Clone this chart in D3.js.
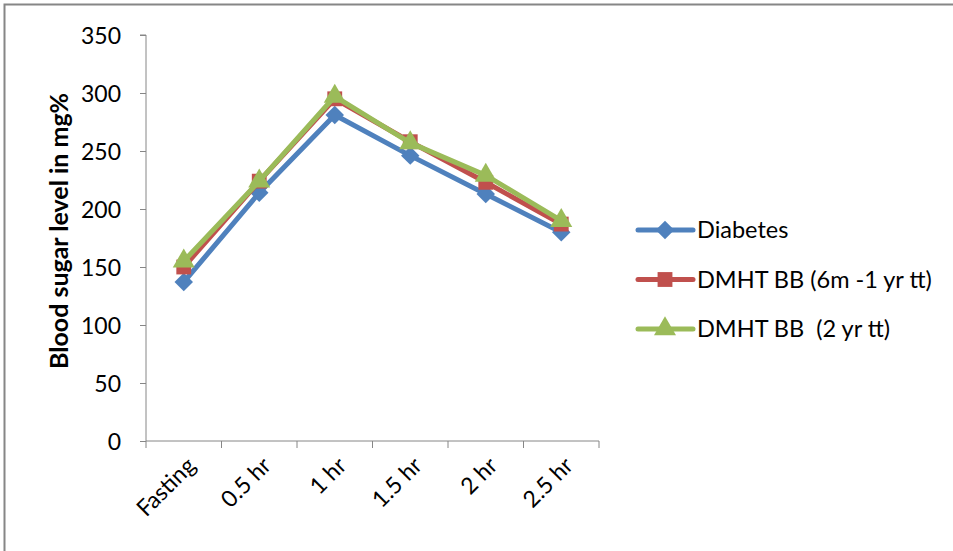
<!DOCTYPE html>
<html>
<head>
<meta charset="utf-8">
<script src="https://cdn.jsdelivr.net/npm/d3@7"></script>
<style>
  body { margin: 0; background: #fff; }
  svg { display: block; font-family: Lato, "Open Sans", sans-serif; }
  .axis path, .axis line { stroke: #868686; }
  .axis text { fill: #000; font-size: 23px; font-family: Lato, "Open Sans", sans-serif; }
</style>
</head>
<body>
<script>
const categories = ['Fasting', '0.5 hr', '1 hr', '1.5 hr', '2 hr', '2.5 hr'];
const yTicks = [0, 50, 100, 150, 200, 250, 300, 350];
const diabetes = [137, 214, 281, 246, 213, 180];
const dmht6m = [150, 224, 295, 258, 223, 187];
const dmht2y = [155, 224, 297, 257, 229, 190];
const seriesNames = ['Diabetes', 'DMHT BB (6m -1 yr tt)', 'DMHT BB  (2 yr tt)'];

const series = [
  {name: seriesNames[0], values: diabetes, color: '#4F81BD', symbol: d3.symbolSquare, rotate: 45, size: 170},
  {name: seriesNames[1], values: dmht6m, color: '#C0504D', symbol: d3.symbolSquare, rotate: 0, size: 220},
  {name: seriesNames[2], values: dmht2y, color: '#9BBB59', symbol: d3.symbolTriangle, rotate: 0, size: 210}
];

const width = 953, height = 551;
const margin = {top: 35, left: 146, bottom: 110, right: 354};

const svg = d3.select(document.body).append('svg')
  .attr('width', width).attr('height', height);

// 차트 테두리 (오른쪽/아래는 화면 밖)
svg.append('rect')
  .attr('x', 4.5).attr('y', 4.5)
  .attr('width', width + 20).attr('height', height + 20)
  .attr('fill', 'none').attr('stroke', '#868686').attr('stroke-width', 2);

const x = d3.scaleBand().domain(categories)
  .range([margin.left, width - margin.right]);
const y = d3.scaleLinear().domain([0, 350])
  .range([height - margin.bottom, margin.top]);

// y axis
const yAxis = svg.append('g').attr('class', 'axis')
  .attr('transform', `translate(${margin.left},0)`)
  .call(d3.axisLeft(y).tickValues(yTicks).tickSize(6).tickPadding(19));
yAxis.select('.domain').attr('d', `M-6,${y(350)}H0V${y(0)}`);
yAxis.selectAll('.tick text').attr('dy', '0.35em');

// x axis
const xAxis = svg.append('g').attr('class', 'axis')
  .attr('transform', `translate(0,${y(0)})`)
  .call(d3.axisBottom(x).tickSize(0).tickSizeOuter(0));
xAxis.select('.domain').attr('d', `M${margin.left},0H${width - margin.right}`);
xAxis.selectAll('.tick line').remove();
const edges = categories.map(c => x(c)).concat([x.range()[1]]);
xAxis.selectAll('.xtick').data(edges).join('line')
  .attr('class', 'xtick')
  .attr('x1', d => d).attr('x2', d => d)
  .attr('y1', 0).attr('y2', 7)
  .attr('stroke', '#868686');
xAxis.selectAll('.tick text')
  .attr('text-anchor', 'end')
  .attr('dy', null)
  .attr('transform', 'translate(11,24) rotate(-45)');

// y axis title
svg.append('text')
  .attr('transform', `translate(68,231) rotate(-90)`)
  .attr('text-anchor', 'middle')
  .attr('font-weight', 'bold')
  .attr('font-size', 25)
  .text('Blood sugar level in mg%');

const line = d3.line()
  .x((d, i) => x(categories[i]) + x.bandwidth() / 2)
  .y(d => y(d));

series.forEach(s => {
  svg.append('path')
    .attr('d', line(s.values))
    .attr('fill', 'none')
    .attr('stroke', s.color)
    .attr('stroke-width', 5)
    .attr('stroke-linejoin', 'round');
  svg.selectAll(null).data(s.values).join('path')
    .attr('d', d3.symbol().type(s.symbol).size(s.size))
    .attr('transform', (d, i) => `translate(${x(categories[i]) + x.bandwidth() / 2},${y(d)}) rotate(${s.rotate})`)
    .attr('fill', s.color);
});

// legend
const legend = svg.append('g').attr('transform', 'translate(638,230)');
series.forEach((s, i) => {
  const g = legend.append('g').attr('transform', `translate(0,${i * 49.5})`);
  g.append('line').attr('x1', 0).attr('x2', 55).attr('y1', 0).attr('y2', 0)
    .attr('stroke', s.color).attr('stroke-width', 5).attr('stroke-linecap', 'round');
  g.append('path')
    .attr('d', d3.symbol().type(s.symbol).size(s.size))
    .attr('transform', `translate(27,0) rotate(${s.rotate})`)
    .attr('fill', s.color);
  g.append('text').attr('x', 59).attr('dy', '0.35em')
    .attr('font-size', 23.5).text(s.name)
    .style('white-space', 'pre');
});
</script>
</body>
</html>
